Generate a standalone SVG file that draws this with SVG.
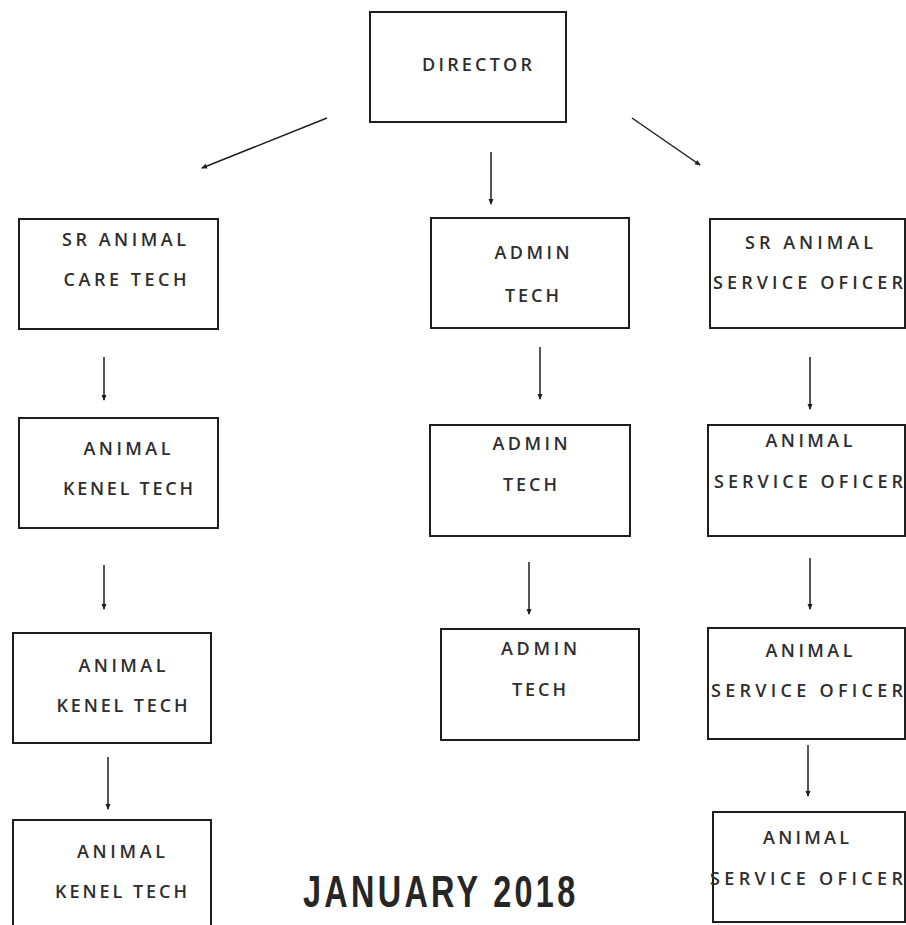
<svg xmlns="http://www.w3.org/2000/svg" width="906" height="925" viewBox="0 0 906 925">
  <style>
    .box { fill: #ffffff; stroke: #1e1e1e; stroke-width: 2; }
    .lbl { font-family: "Open Sans", "Liberation Sans", sans-serif; font-size: 18px; font-weight: 600; fill: #2e2e2e; text-anchor: middle; }
    .wide { text-anchor: start; }
    .link { stroke: #1e1e1e; stroke-width: 1.5; fill: none; marker-end: url(#tip); }
    .title { font-family: "Liberation Sans", "Arial", sans-serif; font-weight: bold; font-size: 45px; fill: #262626; }
  </style>
  <defs>
    <marker id="tip" viewBox="0 0 6 6" refX="5" refY="3" markerWidth="6" markerHeight="6" markerUnits="userSpaceOnUse" orient="auto">
      <path d="M0,0.5 L6,3 L0,5.5 Z" fill="#1e1e1e"/>
    </marker>
  </defs>
  <rect width="906" height="925" fill="#ffffff"/>

  <!-- connectors -->
  <g id="connectors">
    <line class="link" x1="327" y1="118" x2="202" y2="168"/>
    <line class="link" x1="491" y1="152" x2="491" y2="204"/>
    <line class="link" x1="632" y1="118" x2="700" y2="165"/>
    <line class="link" x1="104" y1="357" x2="104" y2="400"/>
    <line class="link" x1="104" y1="565" x2="104" y2="609"/>
    <line class="link" x1="108" y1="757" x2="108" y2="809"/>
    <line class="link" x1="540" y1="347" x2="540" y2="399"/>
    <line class="link" x1="529" y1="562" x2="529" y2="614"/>
    <line class="link" x1="810" y1="357" x2="810" y2="409"/>
    <line class="link" x1="810" y1="558" x2="810" y2="609"/>
    <line class="link" x1="808" y1="745" x2="808" y2="796"/>
  </g>

  <!-- top -->
  <g id="director">
    <rect class="box" x="370" y="12" width="196" height="110"/>
    <text class="lbl" x="477" y="71" textLength="110" lengthAdjust="spacing">DIRECTOR</text>
  </g>

  <!-- left column -->
  <g id="sr-animal-care-tech">
    <rect class="box" x="19" y="219" width="199" height="110"/>
    <text class="lbl" x="124" y="246" textLength="124" lengthAdjust="spacing">SR ANIMAL</text>
    <text class="lbl" x="125" y="286" textLength="123" lengthAdjust="spacing">CARE TECH</text>
  </g>
  <g id="animal-kenel-tech-1">
    <rect class="box" x="19" y="418" width="199" height="110"/>
    <text class="lbl" x="127" y="455" textLength="87" lengthAdjust="spacing">ANIMAL</text>
    <text class="lbl" x="128" y="495" textLength="130" lengthAdjust="spacing">KENEL TECH</text>
  </g>
  <g id="animal-kenel-tech-2">
    <rect class="box" x="13" y="633" width="198" height="110"/>
    <text class="lbl" x="122" y="672" textLength="87" lengthAdjust="spacing">ANIMAL</text>
    <text class="lbl" x="122" y="712" textLength="131" lengthAdjust="spacing">KENEL TECH</text>
  </g>
  <g id="animal-kenel-tech-3">
    <rect class="box" x="13" y="820" width="198" height="110"/>
    <text class="lbl" x="121" y="858" textLength="88" lengthAdjust="spacing">ANIMAL</text>
    <text class="lbl" x="121" y="898" textLength="132" lengthAdjust="spacing">KENEL TECH</text>
  </g>

  <!-- middle column -->
  <g id="admin-tech-1">
    <rect class="box" x="431" y="218" width="198" height="110"/>
    <text class="lbl" x="532" y="259" textLength="75" lengthAdjust="spacing">ADMIN</text>
    <text class="lbl" x="532" y="302" textLength="54" lengthAdjust="spacing">TECH</text>
  </g>
  <g id="admin-tech-2">
    <rect class="box" x="430" y="425" width="200" height="111"/>
    <text class="lbl" x="530" y="450" textLength="75" lengthAdjust="spacing">ADMIN</text>
    <text class="lbl" x="530" y="491" textLength="54" lengthAdjust="spacing">TECH</text>
  </g>
  <g id="admin-tech-3">
    <rect class="box" x="441" y="629" width="198" height="111"/>
    <text class="lbl" x="539" y="655" textLength="76" lengthAdjust="spacing">ADMIN</text>
    <text class="lbl" x="539" y="696" textLength="54" lengthAdjust="spacing">TECH</text>
  </g>

  <!-- right column -->
  <g id="sr-animal-service-oficer">
    <rect class="box" x="710" y="219" width="195" height="109"/>
    <text class="lbl" x="809" y="249" textLength="128" lengthAdjust="spacing">SR ANIMAL</text>
    <text class="lbl wide" x="713" y="289" textLength="190" lengthAdjust="spacing">SERVICE OFICER</text>
  </g>
  <g id="animal-service-oficer-1">
    <rect class="box" x="708" y="425" width="197" height="111"/>
    <text class="lbl" x="809" y="447" textLength="87" lengthAdjust="spacing">ANIMAL</text>
    <text class="lbl wide" x="714" y="488" textLength="189" lengthAdjust="spacing">SERVICE OFICER</text>
  </g>
  <g id="animal-service-oficer-2">
    <rect class="box" x="708" y="628" width="197" height="111"/>
    <text class="lbl" x="809" y="657" textLength="87" lengthAdjust="spacing">ANIMAL</text>
    <text class="lbl wide" x="711" y="697" textLength="192" lengthAdjust="spacing">SERVICE OFICER</text>
  </g>
  <g id="animal-service-oficer-3">
    <rect class="box" x="713" y="812" width="192" height="110"/>
    <text class="lbl" x="806" y="844" textLength="86" lengthAdjust="spacing">ANIMAL</text>
    <text class="lbl wide" x="710" y="885" textLength="193" lengthAdjust="spacing">SERVICE OFICER</text>
  </g>

  <!-- date caption: condensed bold face, spaced letters -->
  <text class="title" transform="translate(303,907) scale(0.72,1)" x="0" y="0" textLength="378" lengthAdjust="spacing">JANUARY 2018</text>
</svg>
